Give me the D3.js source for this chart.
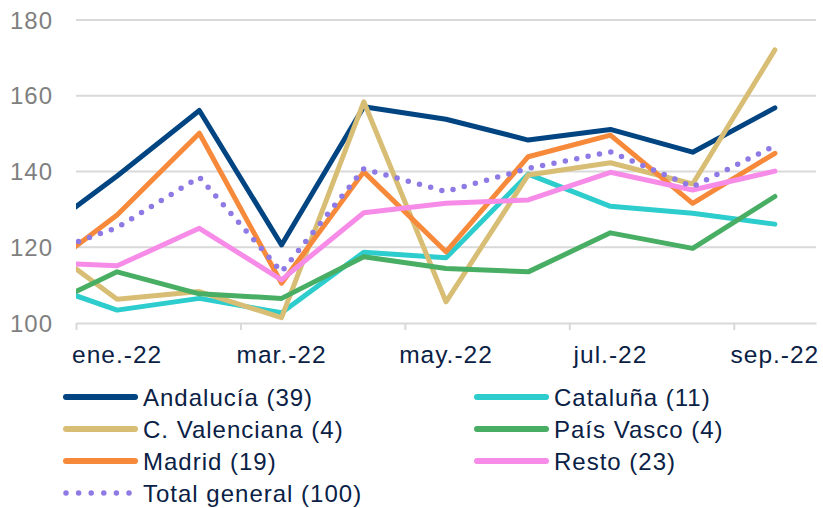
<!DOCTYPE html>
<html>
<head>
<meta charset="utf-8">
<script src="https://cdn.jsdelivr.net/npm/d3@7"></script>
<style>
  html, body { margin: 0; padding: 0; background: #ffffff; }
  svg { display: block; font-family: "Liberation Sans", Arial, sans-serif; }
</style>
</head>
<body>
<svg id="chart" width="823" height="508"></svg>
<script>
// Monthly index values by region (base 100); first value is dic.-21
const months = ["dic.-21", "ene.-22", "feb.-22", "mar.-22", "abr.-22", "may.-22", "jun.-22", "jul.-22", "ago.-22", "sep.-22"];
const tickLabels = ["ene.-22", "mar.-22", "may.-22", "jul.-22", "sep.-22"];
const yTicks = [100, 120, 140, 160, 180];

const andalucia  = [122.6, 138.8, 156.1, 120.6, 157.1, 153.8, 148.3, 151.1, 145.1, 156.8];
const cataluna   = [111.0, 103.4, 106.5, 102.7, 118.7, 117.2, 139.3, 130.8, 129.0, 126.1];
const valenciana = [122.3, 106.3, 108.3, 101.4, 158.4, 105.6, 139.1, 142.3, 136.7, 172.1];
const paisVasco  = [103.1, 113.5, 107.7, 106.5, 117.5, 114.4, 113.5, 123.8, 119.7, 133.4];
const madrid     = [112.1, 128.5, 150.1, 110.5, 139.9, 118.8, 143.9, 149.6, 131.6, 144.8];
const resto      = [116.1, 115.1, 125.0, 111.4, 129.1, 131.6, 132.5, 139.8, 135.1, 140.1];
const total      = [117.4, 125.2, 138.5, 113.5, 140.7, 134.7, 140.8, 145.2, 136.0, 146.8];

const seriesNames  = ["Andalucía (39)", "Cataluña (11)", "C. Valenciana (4)", "País Vasco (4)", "Madrid (19)", "Resto (23)", "Total general (100)"];
const seriesValues = [andalucia, cataluna, valenciana, paisVasco, madrid, resto, total];
const seriesColors = ["#004481", "#2dcccd", "#d8be75", "#48ae64", "#f7893b", "#f78be8", "#8f7ae5"];

const series = seriesNames.map((name, i) => ({
  name, values: seriesValues[i], color: seriesColors[i], dotted: name.startsWith("Total")
}));

const svg = d3.select("#chart");
const plot = { left: 76, right: 816, top: 20, bottom: 323 };

// x: month index, 0 = start of ene.-22; each value sits mid-month
const x = d3.scaleLinear().domain([0, 9]).range([plot.left, plot.right]);
const y = d3.scaleLinear().domain([100, 180]).range([plot.bottom, plot.top]);
const monthPos = i => x(i - 1 + 0.5); // i indexes months[] (dic.-21 = 0)

const textColor = "#0a2145";
const gridColor = "#d9d9d9";

// horizontal gridlines
svg.append("g").selectAll("line").data(yTicks.filter(t => t !== 100)).join("line")
  .attr("x1", plot.left).attr("x2", plot.right)
  .attr("y1", d => y(d)).attr("y2", d => y(d))
  .attr("stroke", gridColor).attr("stroke-width", 2);

// x axis line, ticks and labels
const xAxis = d3.axisBottom(x)
  .tickValues([0, 2, 4, 6, 8])
  .tickSizeInner(7)
  .tickSizeOuter(0)
  .tickFormat("");
const gx = svg.append("g").attr("transform", `translate(0,${plot.bottom})`).call(xAxis);
gx.select(".domain").attr("stroke", gridColor).attr("stroke-width", 2);
gx.selectAll(".tick line").attr("stroke", gridColor).attr("stroke-width", 2);

svg.append("g").selectAll("text").data(tickLabels).join("text")
  .attr("x", (d, i) => x(i * 2 + 0.5))
  .attr("y", 363)
  .attr("text-anchor", "middle")
  .attr("fill", textColor)
  .attr("font-size", 24.5)
  .attr("letter-spacing", 1)
  .text(d => d);

// y labels
svg.append("g").selectAll("text").data(yTicks).join("text")
  .attr("x", 53)
  .attr("y", d => y(d) + 8.5)
  .attr("text-anchor", "end")
  .attr("fill", "#7f7f7f")
  .attr("font-size", 24)
  .attr("letter-spacing", 1)
  .text(d => d);

// clip lines to the plot area
svg.append("defs").append("clipPath").attr("id", "plotClip")
  .append("rect")
  .attr("x", plot.left).attr("y", 0)
  .attr("width", plot.right - plot.left + 10).attr("height", plot.bottom + 10);

const line = d3.line()
  .x((d, i) => monthPos(i))
  .y(d => y(d));

svg.append("g").attr("clip-path", "url(#plotClip)")
  .selectAll("path").data(series).join("path")
  .attr("d", d => line(d.values))
  .attr("fill", "none")
  .attr("stroke", d => d.color)
  .attr("stroke-width", d => d.dotted ? 5.5 : 5)
  .attr("stroke-linejoin", "round")
  .attr("stroke-linecap", "round")
  .attr("stroke-dasharray", d => d.dotted ? "0 11.6" : null);

// legend: two columns, filled row by row
const legendCols = [66, 477];
const legendTop = 397, legendStep = 32;
const lg = svg.append("g").selectAll("g").data(series).join("g")
  .attr("transform", (d, i) => `translate(${legendCols[i % 2]},${legendTop + Math.floor(i / 2) * legendStep})`);

lg.append("line")
  .attr("x1", 0).attr("x2", 69).attr("y1", 0).attr("y2", 0)
  .attr("stroke", d => d.color)
  .attr("stroke-width", d => d.dotted ? 5.5 : 6)
  .attr("stroke-linecap", "round")
  .attr("stroke-dasharray", d => d.dotted ? "0 12.6" : null);

lg.append("text")
  .attr("x", 77)
  .attr("y", 9)
  .attr("fill", textColor)
  .attr("font-size", 24)
  .attr("letter-spacing", 1)
  .text(d => d.name);
</script>
</body>
</html>
